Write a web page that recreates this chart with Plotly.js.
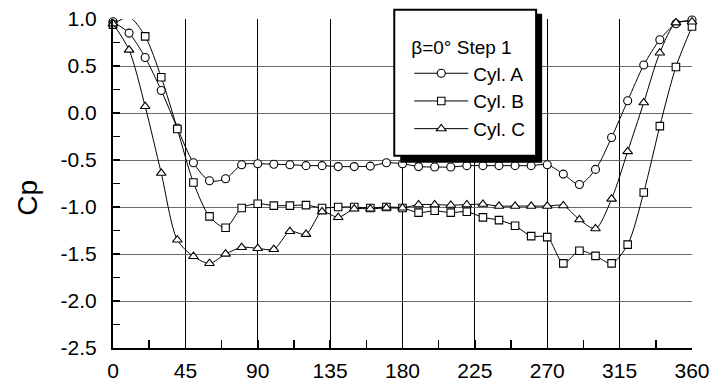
<!DOCTYPE html>
<html>
<head>
<meta charset="utf-8">
<script src="https://cdn.plot.ly/plotly-3.0.1.min.js"></script>
<style>html,body{margin:0;padding:0;background:#fff;}#chart{width:713px;height:387px;}</style>
</head>
<body>
<div id="chart"></div>
<script>
// Angle (degrees) around the cylinder
var angles = [0,10,20,30,40,50,60,70,80,90,100,110,120,130,140,150,160,170,180,
              190,200,210,220,230,240,250,260,270,280,290,300,310,320,330,340,350,360];

// Pressure coefficient Cp
var cylA = [0.97,0.85,0.59,0.24,-0.16,-0.53,-0.72,-0.70,-0.55,-0.54,-0.545,-0.55,-0.56,-0.56,-0.57,-0.57,-0.565,-0.53,-0.54,
            -0.57,-0.575,-0.575,-0.56,-0.56,-0.56,-0.56,-0.56,-0.55,-0.65,-0.76,-0.60,-0.26,0.13,0.51,0.78,0.95,0.99];
var cylB = [0.94,1.02,0.815,0.38,-0.17,-0.74,-1.10,-1.22,-1.01,-0.965,-0.985,-0.985,-0.98,-1.01,-1.00,-1.00,-1.01,-1.00,-1.01,
            -1.06,-1.04,-1.06,-1.05,-1.11,-1.14,-1.20,-1.31,-1.32,-1.60,-1.465,-1.52,-1.60,-1.40,-0.845,-0.14,0.49,0.92];
var cylC = [0.95,0.67,0.07,-0.64,-1.35,-1.525,-1.60,-1.50,-1.43,-1.44,-1.45,-1.26,-1.29,-1.05,-1.11,-1.02,-1.02,-1.01,-1.01,
            -0.975,-0.975,-0.98,-0.975,-0.97,-0.99,-0.99,-0.99,-0.99,-0.985,-1.135,-1.23,-0.915,-0.41,0.11,0.64,0.96,0.97];

var seriesNames = ["Cyl. A", "Cyl. B", "Cyl. C"];
var legendTitle = "β=0° Step 1";
var yTitle = "Cp";

var xTickVals = [0,45,90,135,180,225,270,315,360];
var xTickText = ["0","45","90","135","180","225","270","315","360"];
var yTickVals = [1.0,0.5,0.0,-0.5,-1.0,-1.5,-2.0,-2.5];
var yTickText = ["1.0","0.5","0.0","-0.5","-1.0","-1.5","-2.0","-2.5"];

// layout geometry (pixels)
var W = 713, H = 387;
var M = {l: 112.5, r: 21, t: 19.3, b: 38.7};
var PW = W - M.l - M.r, PH = H - M.t - M.b;
function px(x) { return (x - M.l) / PW; }
function py(y) { return 1 - (y - M.t) / PH; }

var FONT = "Liberation Sans, Arial, sans-serif";

function mk(name, y, symbol, size) {
  return {
    x: angles, y: y, name: name, type: "scatter", mode: "lines+markers",
    cliponaxis: false,
    line: {color: "#000", width: 1, shape: "spline", smoothing: 0.8},
    marker: {symbol: symbol, size: size, color: "#fff", line: {color: "#000", width: 1.1}}
  };
}

var data = [
  mk(seriesNames[0], cylA, "circle", 8),
  mk(seriesNames[1], cylB, "square", 7.5),
  mk(seriesNames[2], cylC, "triangle-up", 8.5)
];

var layout = {
  width: W, height: H,
  margin: M,
  paper_bgcolor: "#fff", plot_bgcolor: "#fff",
  font: {family: FONT, size: 21, color: "#000"},
  showlegend: true,
  legend: {
    x: px(409), y: py(30), xanchor: "left", yanchor: "top",
    bgcolor: "rgba(0,0,0,0)", borderwidth: 0,
    font: {family: FONT, size: 19, color: "#000"},
    title: {text: legendTitle, font: {family: FONT, size: 19, color: "#000"}},
    itemwidth: 54
  },
  xaxis: {
    range: [0, 360], tickmode: "array", tickvals: xTickVals, ticktext: xTickText,
    showgrid: true, gridcolor: "#000", gridwidth: 1,
    showline: true, linecolor: "#000", linewidth: 2,
    ticks: "inside", ticklen: 8, tickcolor: "#000", tickwidth: 1.5,
    ticklabelstandoff: 3,
    minor: {dtick: 22.5, tick0: 0, ticks: "inside", ticklen: 8, tickcolor: "#000", tickwidth: 1.5, showgrid: false},
    zeroline: false, tickfont: {family: FONT, size: 21, color: "#000"}
  },
  yaxis: {
    range: [-2.5, 1.0], tickmode: "array", tickvals: yTickVals, ticktext: yTickText,
    showgrid: true, gridcolor: "#6a6a6a", gridwidth: 1,
    showline: true, linecolor: "#000", linewidth: 2,
    ticks: "inside", ticklen: 7, tickcolor: "#000", tickwidth: 1.5,
    ticklabelstandoff: 10,
    minor: {dtick: 0.25, tick0: 0, ticks: "inside", ticklen: 7, tickcolor: "#000", tickwidth: 1.5, showgrid: false},
    zeroline: false, tickfont: {family: FONT, size: 21, color: "#000"}
  },
  shapes: [
    {type: "rect", xref: "paper", yref: "paper", layer: "above",
     x0: px(400), x1: px(542), y0: py(14), y1: py(163),
     fillcolor: "#000", line: {width: 0}},
    {type: "rect", xref: "paper", yref: "paper", layer: "above",
     x0: px(394), x1: px(536), y0: py(10), y1: py(156),
     fillcolor: "#fff", line: {color: "#000", width: 2}}
  ],
  annotations: [
    {text: yTitle, xref: "paper", yref: "paper", x: px(27), y: py(198.5),
     xanchor: "center", yanchor: "middle", textangle: -90, showarrow: false,
     font: {family: FONT, size: 28, color: "#000"}}
  ]
};

Plotly.newPlot("chart", data, layout, {displayModeBar: false, staticPlot: true});
</script>
</body>
</html>
